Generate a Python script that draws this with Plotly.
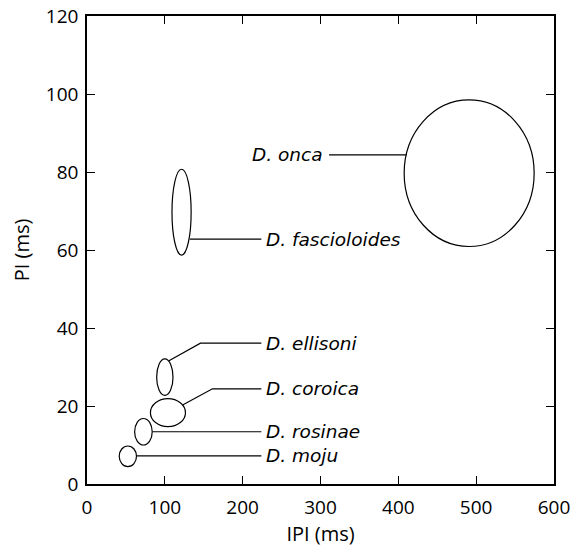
import plotly.graph_objects as go

species = ["D. onca", "D. fascioloides", "D. ellisoni", "D. coroica", "D. rosinae", "D. moju"]
ipi_center = [491, 121.5, 100, 104, 72.5, 52.5]
pi_center = [79.7, 69.7, 27.4, 18.3, 13.4, 7.1]
ipi_halfwidth = [83.5, 12.3, 10.5, 22.5, 11.3, 11.1]
pi_halfwidth = [18.8, 11.0, 4.7, 3.6, 3.4, 2.65]

# leader lines: list of (x points, y points)
leader_x = [[311, 410.6], [132, 224], [105.3, 145.8, 224], [123.4, 161.2, 224], [84.1, 224], [63.5, 224]]
leader_y = [[84.4, 84.4], [62.8, 62.8], [31.6, 36.1, 36.1], [20.3, 24.4, 24.4], [13.4, 13.4], [7.2, 7.2]]
label_x = [306, 227.5, 227.5, 227.5, 227.5, 227.5]
label_side = ["right", "left", "left", "left", "left", "left"]

x_ticks = [0, 100, 200, 300, 400, 500, 600]
y_ticks = [0, 20, 40, 60, 80, 100, 120]

FONT = "Open Sans"
LABEL_FONT = "DejaVu Sans"

fig = go.Figure()
shapes = []
for cx, cy, rx, ry in zip(ipi_center, pi_center, ipi_halfwidth, pi_halfwidth):
    shapes.append(dict(type="circle", xref="x", yref="y",
                       x0=cx - rx, x1=cx + rx, y0=cy - ry, y1=cy + ry,
                       line=dict(color="black", width=1.2)))

for lx, ly in zip(leader_x, leader_y):
    fig.add_trace(go.Scatter(x=lx, y=ly, mode="lines",
                             line=dict(color="black", width=1.2),
                             showlegend=False, hoverinfo="skip"))

annotations = []
for name, tx, ly, side in zip(species, label_x, leader_y, label_side):
    annotations.append(dict(x=tx, y=ly[-1] if side == "left" else ly[0], xref="x", yref="y",
                            text="<i>" + name + "</i>", showarrow=False,
                            xanchor=side, yanchor="middle",
                            font=dict(family=LABEL_FONT, size=18.5, color="black")))

axis_common = dict(showline=True, linecolor="black", linewidth=1.6, mirror="ticks",
                   ticks="inside", ticklen=8, tickwidth=1.2, tickcolor="black",
                   showgrid=False, zeroline=False, automargin=False,
                   ticklabeloverflow="allow",
                   tickfont=dict(family=FONT, size=19, color="black"))

fig.update_layout(
    width=571, height=552,
    margin=dict(l=87, r=17, t=16, b=68),
    plot_bgcolor="white", paper_bgcolor="white",
    shapes=shapes, annotations=annotations,
    xaxis=dict(range=[0, 600], tickvals=x_ticks, ticklabelstandoff=5,
               title=dict(text="IPI (ms)", font=dict(family=FONT, size=20, color="black"), standoff=8),
               **axis_common),
    yaxis=dict(range=[0, 120], tickvals=y_ticks, ticklabelstandoff=3,
               title=dict(text="PI (ms)", font=dict(family=FONT, size=20, color="black"), standoff=11),
               **axis_common),
)

fig.write_html("out.html", config={"displayModeBar": False},
               post_script="document.body.style.margin='0';document.body.style.overflow='hidden';")
